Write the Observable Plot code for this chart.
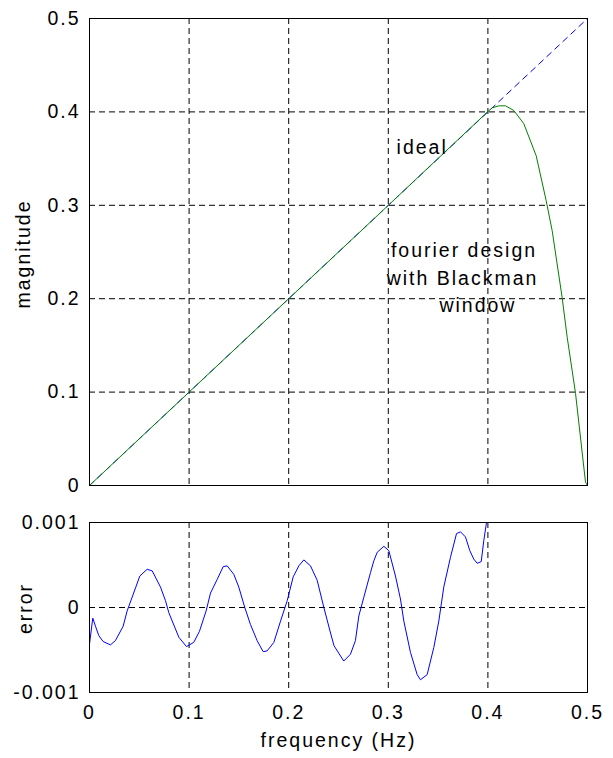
<!DOCTYPE html>
<html><head><meta charset="utf-8">
<script src="https://cdn.jsdelivr.net/npm/d3@7"></script>
<script src="https://cdn.jsdelivr.net/npm/@observablehq/plot@0.6"></script>
<style>
body{margin:0;background:#fff;}
#chart svg{display:block;}
</style></head><body><div id="chart"></div>
<script>
// ---- data ----
const idealFreq = [0, 0.5];
const idealMag = [0, 0.5];

const designFreq = [0, 0.1, 0.2, 0.3, 0.3993, 0.4043, 0.411, 0.4177, 0.426, 0.436, 0.4485, 0.4585, 0.4645, 0.4745, 0.4796, 0.488, 0.498, 0.5];
const designMag  = [0, 0.1, 0.2, 0.3, 0.3997, 0.4044, 0.4065, 0.4065, 0.4015, 0.3875, 0.353, 0.305, 0.273, 0.2016, 0.1588, 0.0985, 0.0035, 0];

const errFreq = [0, 0.0033, 0.006, 0.0093, 0.0137, 0.021, 0.026, 0.0338, 0.0378, 0.0462, 0.0505, 0.0579, 0.063, 0.0713, 0.0763, 0.0796, 0.0897, 0.0974, 0.1047, 0.1104, 0.1171, 0.1215, 0.1282, 0.1342, 0.1382, 0.1449, 0.1499, 0.1559, 0.1616, 0.1683, 0.1744, 0.1784, 0.1851, 0.1918, 0.1985, 0.2045, 0.2102, 0.2152, 0.2219, 0.2286, 0.2353, 0.242, 0.2455, 0.2553, 0.262, 0.267, 0.2704, 0.2754, 0.2821, 0.2855, 0.2889, 0.2955, 0.3005, 0.3072, 0.3122, 0.3156, 0.3223, 0.329, 0.3323, 0.339, 0.3457, 0.3507, 0.3557, 0.3624, 0.3685, 0.3725, 0.3775, 0.3818, 0.3858, 0.3892, 0.3933, 0.3959, 0.3986, 0.4005];
const errVal = [-0.00043, -0.000125, -0.00022, -0.00033, -0.0004, -0.00044, -0.00039, -0.00022, -0.00004, 0.00023, 0.00037, 0.00045, 0.00043, 0.00024, 0.00008, -0.00006, -0.00035, -0.00046, -0.00041, -0.00028, -0.00004, 0.00017, 0.00033, 0.00048, 0.00049, 0.00039, 0.00024, 0, -0.0002, -0.00039, -0.00052, -0.00051, -0.00041, -0.00016, 0.00008, 0.00036, 0.00049, 0.00056, 0.00049, 0.00032, 0, -0.0003, -0.00045, -0.00063, -0.00055, -0.00039, -0.0001, 0.00012, 0.00041, 0.00055, 0.00065, 0.00072, 0.00067, 0.00037, 0.0001, -0.00016, -0.00053, -0.00079, -0.00085, -0.00079, -0.00047, -0.00016, 0.00024, 0.00059, 0.00087, 0.00089, 0.00083, 0.00067, 0.00057, 0.00052, 0.00054, 0.00079, 0.001, 0.0013];

const xTicks = [0, 0.1, 0.2, 0.3, 0.4, 0.5];
const xTickLabels = ["0", "0.1", "0.2", "0.3", "0.4", "0.5"];
const xGrid = [0.1, 0.2, 0.3, 0.4];
const yTicksTop = [0, 0.1, 0.2, 0.3, 0.4, 0.5];
const yTickLabelsTop = ["0", "0.1", "0.2", "0.3", "0.4", "0.5"];
const yGridTop = [0.1, 0.2, 0.3, 0.4];
const yTicksBottom = [-0.001, 0, 0.001];
const yTickLabelsBottom = ["-0.001", "0", "0.001"];
const yGridBottom = [0];

const noteText = ["ideal", "fourier design", "with Blackman", "window"];
const noteFreq = [0.334, 0.376, 0.3745, 0.390];
const noteMag  = [0.362, 0.2516, 0.2216, 0.1927];

const xLabel = "frequency (Hz)";
const yLabelTop = "magnitude";
const yLabelBottom = "error";

// ---- build ----
const ideal = idealFreq.map((f, i) => ({f, m: idealMag[i]}));
const design = designFreq.map((f, i) => ({f, m: designMag[i]}));
const err = errFreq.map((f, i) => ({f, e: errVal[i]}));
const notes = noteText.map((t, i) => ({t, f: noteFreq[i], m: noteMag[i]}));

const chartStyle = {fontFamily: "'Liberation Sans', Arial, Helvetica, sans-serif", fontSize: "19.5px", letterSpacing: "2px", background: "white", color: "black", overflow: "visible"};
const dash = "6,4";
const W = 613, ML = 89, MR = 26;

const magPlot = Plot.plot({
  width: W, height: 500,
  marginLeft: ML, marginRight: MR, marginTop: 18, marginBottom: 15,
  style: chartStyle,
  x: {domain: [0, 0.5]},
  y: {domain: [0, 0.5]},
  marks: [
    Plot.ruleX(xGrid, {stroke: "black", strokeDasharray: dash}),
    Plot.ruleY(yGridTop, {stroke: "black", strokeDasharray: dash}),
    Plot.line(ideal, {x: "f", y: "m", stroke: "#0000ff", strokeDasharray: "6,5", strokeWidth: 1}),
    Plot.line(design, {x: "f", y: "m", stroke: "#008000", strokeWidth: 1}),
    Plot.text(notes, {x: "f", y: "m", text: "t", fill: "black"}),
    Plot.axisY({ticks: yTicksTop, tickFormat: (d, i) => yTickLabelsTop[i], tickSize: 0, tickPadding: 9, label: null}),
    Plot.axisX({ticks: [], label: null, tickSize: 0}),
    Plot.text([yLabelTop], {frameAnchor: "left", textAnchor: "middle", dx: -66, dy: 2, rotate: -90, fill: "black"}),
    Plot.frame({stroke: "black"})
  ]
});

const errPlot = Plot.plot({
  width: W, height: 258,
  marginLeft: ML, marginRight: MR, marginTop: 22, marginBottom: 66,
  style: chartStyle,
  x: {domain: [0, 0.5]},
  y: {domain: [-0.001, 0.001]},
  marks: [
    Plot.ruleX(xGrid, {stroke: "black", strokeDasharray: dash}),
    Plot.ruleY(yGridBottom, {stroke: "black", strokeDasharray: dash}),
    Plot.line(err, {x: "f", y: "e", stroke: "#0000ff", strokeWidth: 1, clip: true}),
    Plot.axisY({ticks: yTicksBottom, tickFormat: (d, i) => yTickLabelsBottom[i], tickSize: 0, tickPadding: 9, label: null}),
    Plot.axisX({ticks: xTicks, tickFormat: (d, i) => xTickLabels[i], tickSize: 0, tickPadding: 13, label: null}),
    Plot.text([yLabelBottom], {frameAnchor: "left", textAnchor: "middle", dx: -64, dy: 1, rotate: -90, fill: "black"}),
    Plot.text([xLabel], {frameAnchor: "bottom", dy: 54, fill: "black"}),
    Plot.frame({stroke: "black"})
  ]
});

document.getElementById("chart").append(magPlot, errPlot);
</script>
</body></html>
